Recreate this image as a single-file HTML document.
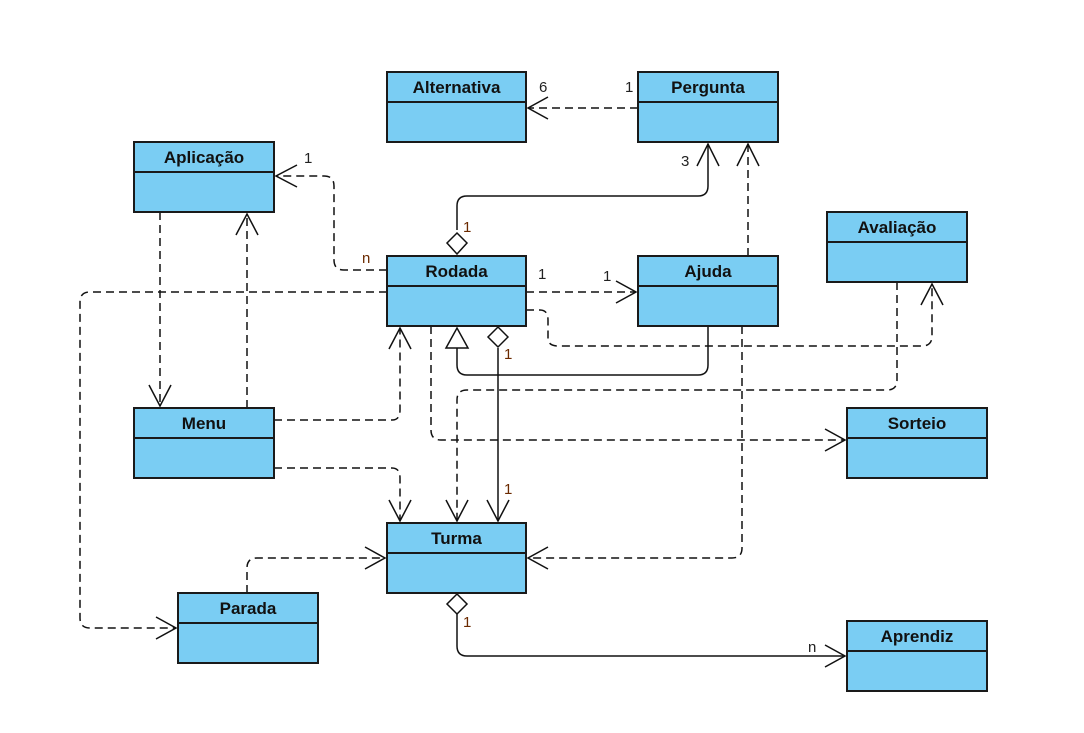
<!DOCTYPE html>
<html><head><meta charset="utf-8"><style>
html,body{margin:0;padding:0;background:#fff;}
svg{display:block;}
.b{fill:#7acdf3;stroke:#1a1a1a;stroke-width:2;}
.t{font-family:"Liberation Sans",sans-serif;font-weight:bold;font-size:17px;fill:#111;text-anchor:middle;}
.l{font-family:"Liberation Sans",sans-serif;font-size:15px;fill:#222;}
.lb{font-family:"Liberation Sans",sans-serif;font-size:15px;fill:#6b2a00;}
.d{fill:none;stroke:#111;stroke-width:1.5;stroke-dasharray:8,5;}
.s{fill:none;stroke:#111;stroke-width:1.5;}
.a{fill:none;stroke:#111;stroke-width:1.5;}
</style></head><body>
<svg width="1084" height="733" viewBox="0 0 1084 733" xmlns="http://www.w3.org/2000/svg">
<!-- connectors -->
<path class="d" d="M638,108 H528"/><path class="a" d="M548,97 L528,108 L548,119"/>
<path class="s" d="M457,230 V206 Q457,196 467,196 H698 Q708,196 708,186 V144"/><path class="a" d="M697,166 L708,144 L719,166"/>
<path class="d" d="M748,256 V144"/><path class="a" d="M737,166 L748,144 L759,166"/>
<path class="d" d="M387,270 H344 Q334,270 334,260 V186 Q334,176 324,176 H276"/><path class="a" d="M297,165 L276,176 L297,187"/>
<path class="d" d="M387,292 H90 Q80,292 80,302 V618 Q80,628 90,628 H176"/><path class="a" d="M156,617 L176,628 L156,639"/>
<path class="d" d="M160,212 V406"/><path class="a" d="M149,385 L160,406 L171,385"/>
<path class="d" d="M247,408 V214"/><path class="a" d="M236,235 L247,214 L258,235"/>
<path class="d" d="M274,420 H392 Q400,420 400,410 V328"/><path class="a" d="M389,349 L400,328 L411,349"/>
<path class="d" d="M274,468 H392 Q400,468 400,478 V521"/><path class="a" d="M389,500 L400,521 L411,500"/>
<path class="d" d="M526,292 H636"/><path class="a" d="M616,281 L636,292 L616,303"/>
<path class="d" d="M526,310 H540 Q548,310 548,320 V338 Q548,346 558,346 H922 Q932,346 932,336 V284"/><path class="a" d="M921,305 L932,284 L943,305"/>
<path class="s" d="M708,326 V365 Q708,375 698,375 H467 Q457,375 457,365 V348"/><path class="a" d="M446,348 L457,328 L468,348 Z" style="fill:#fff"/>
<path class="s" d="M498,348 V521"/><path class="a" d="M487,500 L498,521 L509,500"/>
<path d="M498,327 L508,337 L498,347 L488,337 Z" style="fill:#fff;stroke:#111;stroke-width:1.5"/>
<path class="d" d="M897,282 V380 Q897,390 887,390 H467 Q457,390 457,400 V521"/><path class="a" d="M446,500 L457,521 L468,500"/>
<path class="d" d="M431,326 V430 Q431,440 441,440 H845"/><path class="a" d="M825,429 L845,440 L825,451"/>
<path class="d" d="M742,326 V548 Q742,558 732,558 H528"/><path class="a" d="M548,547 L528,558 L548,569"/>
<path class="d" d="M247,593 V568 Q247,558 257,558 H385"/><path class="a" d="M365,547 L385,558 L365,569"/>
<path class="s" d="M457,614 V646 Q457,656 467,656 H845"/><path class="a" d="M825,645 L845,656 L825,667"/>
<path d="M457,594 L467,604 L457,614 L447,604 Z" style="fill:#fff;stroke:#111;stroke-width:1.5"/>
<path d="M457,233 L467,243 L457,254 L447,243 Z" style="fill:#fff;stroke:#111;stroke-width:1.5"/>
<!-- labels -->
<text class="l" x="539" y="92">6</text><text class="l" x="625" y="92">1</text>
<text class="l" x="681" y="166">3</text><text class="lb" x="463" y="232">1</text>
<text class="l" x="304" y="163">1</text><text class="lb" x="362" y="263">n</text>
<text class="l" x="538" y="279">1</text><text class="l" x="603" y="281">1</text>
<text class="lb" x="504" y="359">1</text><text class="lb" x="504" y="494">1</text>
<text class="lb" x="463" y="627">1</text><text class="l" x="808" y="652">n</text>
<!-- boxes -->
<g>
<rect class="b" x="387" y="72" width="139" height="70"/><line class="b" x1="387" y1="102" x2="526" y2="102"/><text class="t" x="456.5" y="93">Alternativa</text>
<rect class="b" x="638" y="72" width="140" height="70"/><line class="b" x1="638" y1="102" x2="778" y2="102"/><text class="t" x="708" y="93">Pergunta</text>
<rect class="b" x="134" y="142" width="140" height="70"/><line class="b" x1="134" y1="172" x2="274" y2="172"/><text class="t" x="204" y="163">Aplicação</text>
<rect class="b" x="827" y="212" width="140" height="70"/><line class="b" x1="827" y1="242" x2="967" y2="242"/><text class="t" x="897" y="233">Avaliação</text>
<rect class="b" x="387" y="256" width="139" height="70"/><line class="b" x1="387" y1="286" x2="526" y2="286"/><text class="t" x="456.5" y="277">Rodada</text>
<rect class="b" x="638" y="256" width="140" height="70"/><line class="b" x1="638" y1="286" x2="778" y2="286"/><text class="t" x="708" y="277">Ajuda</text>
<rect class="b" x="134" y="408" width="140" height="70"/><line class="b" x1="134" y1="438" x2="274" y2="438"/><text class="t" x="204" y="429">Menu</text>
<rect class="b" x="847" y="408" width="140" height="70"/><line class="b" x1="847" y1="438" x2="987" y2="438"/><text class="t" x="917" y="429">Sorteio</text>
<rect class="b" x="387" y="523" width="139" height="70"/><line class="b" x1="387" y1="553" x2="526" y2="553"/><text class="t" x="456.5" y="544">Turma</text>
<rect class="b" x="178" y="593" width="140" height="70"/><line class="b" x1="178" y1="623" x2="318" y2="623"/><text class="t" x="248" y="614">Parada</text>
<rect class="b" x="847" y="621" width="140" height="70"/><line class="b" x1="847" y1="651" x2="987" y2="651"/><text class="t" x="917" y="642">Aprendiz</text>
</g>
</svg>
</body></html>
